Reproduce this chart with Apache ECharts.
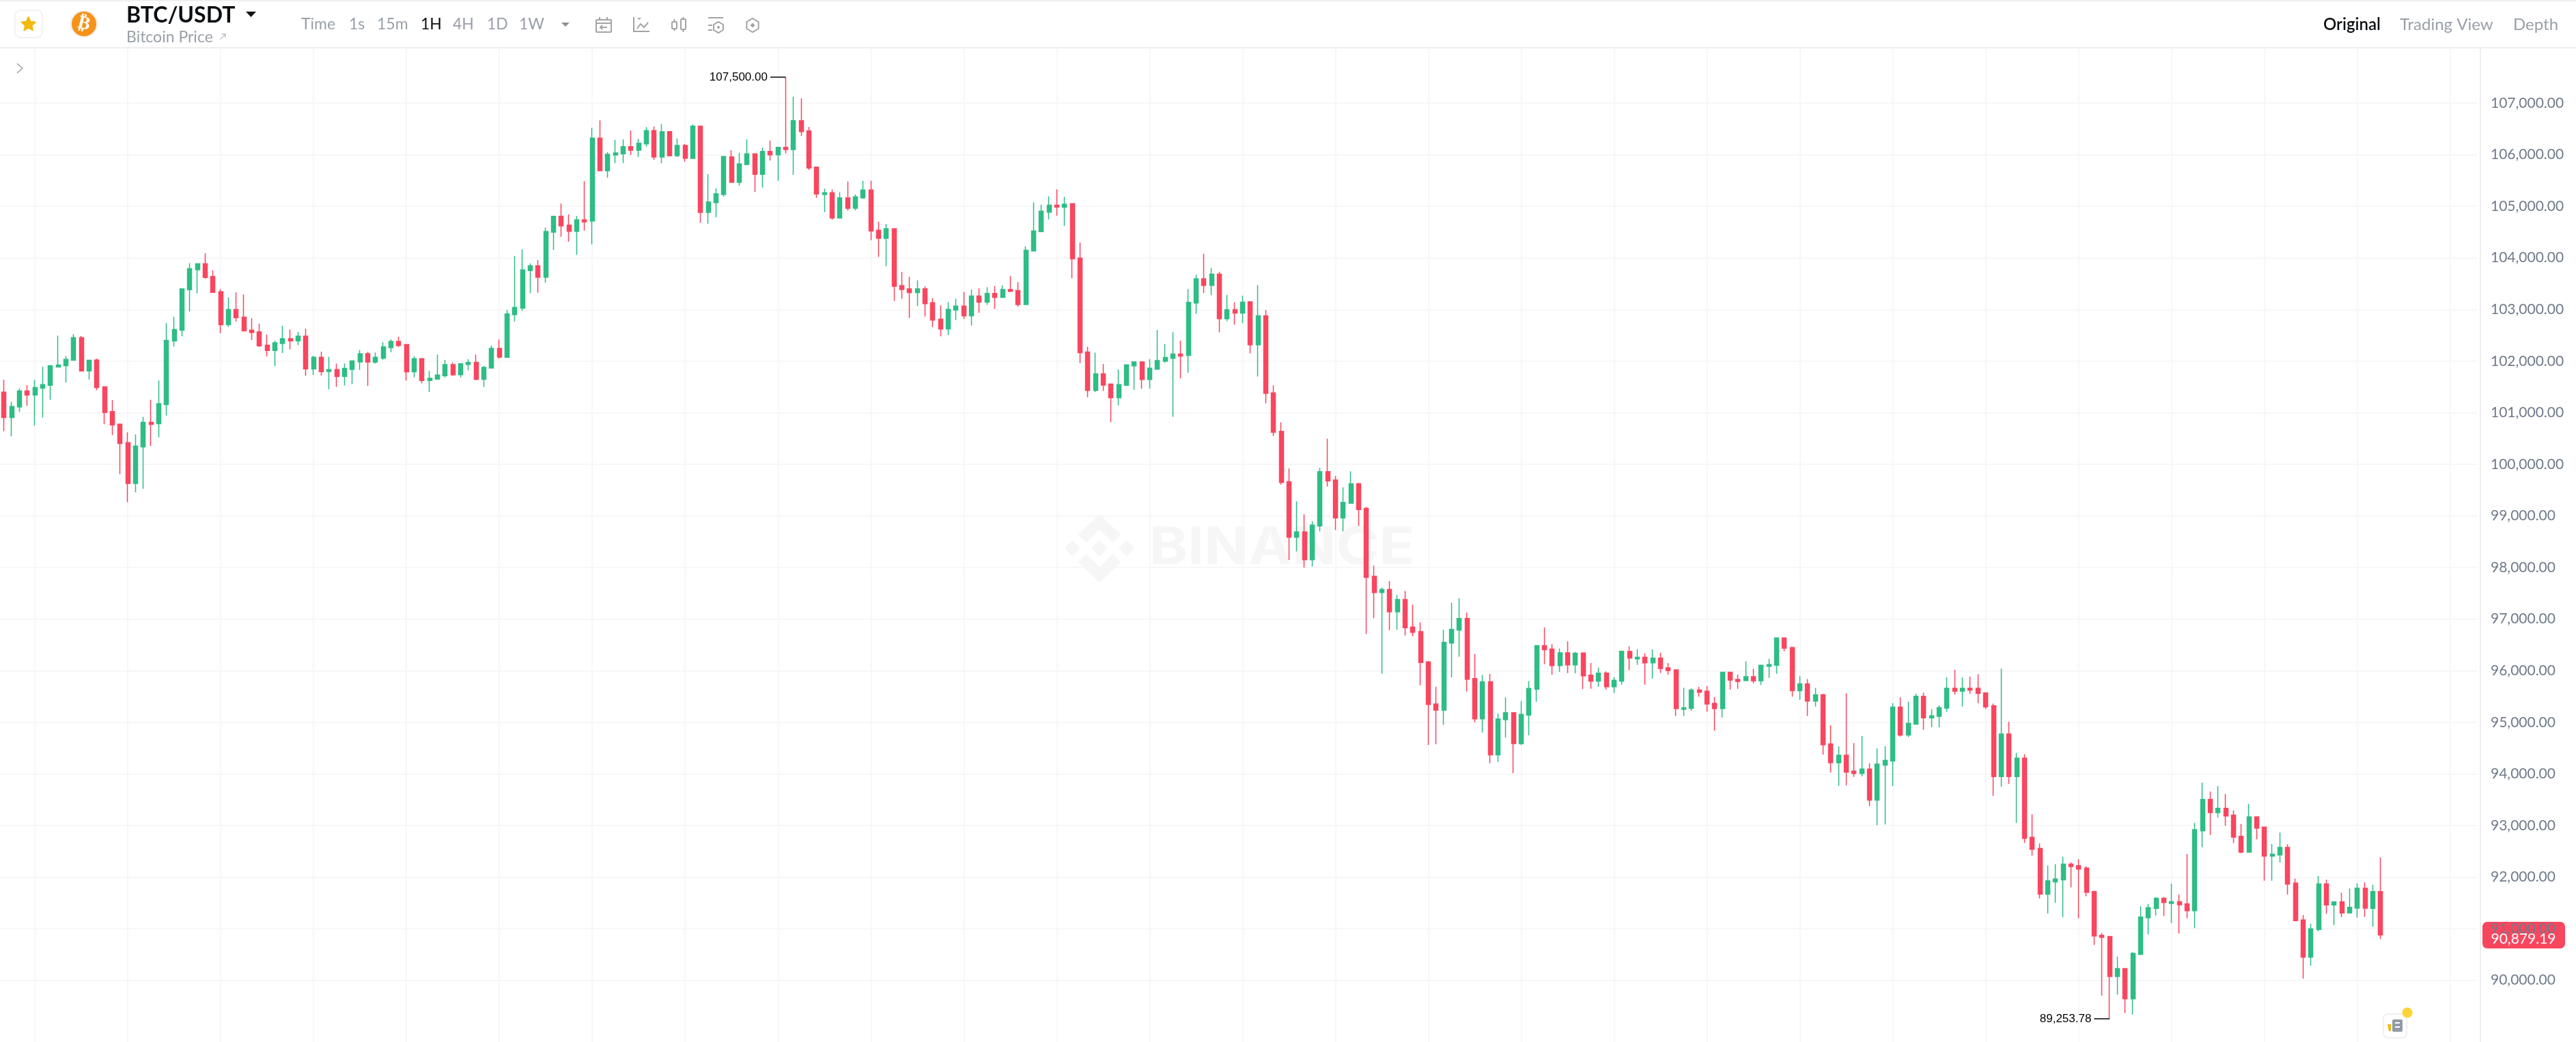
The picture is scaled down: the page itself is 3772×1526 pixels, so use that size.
<!DOCTYPE html>
<html>
<head>
<meta charset="utf-8">
<title>BTC/USDT</title>
<style>
	html, body { margin: 0; padding: 0; background: #fff; }
	#chartCandles { width: 3772px; height: 1526px; }
</style>
<script src="https://cdn.jsdelivr.net/npm/echarts@6/dist/echarts.min.js"></script>
</head>
<body>
<div id="chartCandles"></div>
<script>
/* ---------------------------------------------
--------------------------------------------- */
const opens = [
	101400,100906,101113,101422,101342,101475,101532,101885,101911,102017,
	102454,101810,102022,101501,101021,100778,100421,99631,100337,100813,
	100787,101157,102392,102599,103384,103772,103887,103640,103345,102705,
	103001,102851,102599,102568,102308,102207,102344,102436,102392,102485,
	101850,102074,101801,101836,101704,101841,101986,102145,101977,102057,
	102264,102383,102321,101792,102048,101623,101650,101716,101932,101738,
	101937,101976,101646,101866,102245,102073,102903,103026,103754,103847,
	103626,104499,104808,104636,104517,104738,104716,106321,105690,105995,
	106017,106158,106087,106211,106467,105955,106449,105981,106180,105929,
	106555,104883,105073,105232,105959,105465,105809,106017,105620,106065,
	105999,106145,106101,106661,106462,105761,105232,105264,104773,105165,
	104962,105165,105316,104537,104381,104565,103464,103402,103327,103402,
	103133,102812,102623,102991,103067,102878,103261,103142,103313,103237,
	103388,103369,103095,104135,104508,104886,105023,104981,105052,103998,
	102178,101432,101753,101555,101290,101531,101909,101985,101644,101843,
	101999,102055,102136,102112,103128,103596,103468,103686,102821,102996,
	102930,103149,102317,102877,101385,100637,99664,98586,98690,98151,
	98805,99857,99695,98962,99245,99622,99146,97829,97516,97574,
	97141,97379,96846,96758,96171,95355,95236,96537,96788,97013,
	95849,95068,95787,94371,95050,95187,94587,95139,95642,96488,
	96422,96100,96347,96114,96343,95915,95800,95955,95690,95800,
	96374,96228,96263,96153,96246,96056,96016,95253,95271,95628,
	95602,95368,95267,95972,95831,95809,95884,95805,96087,96105,
	96634,96450,95614,95746,95412,95533,94581,94217,94364,94055,
	94009,94095,93493,94171,94252,95295,94753,94966,95503,95088,
	95118,95275,95660,95604,95660,95660,95569,95321,93948,94774,
	93948,94308,92773,92556,91670,91908,91948,92252,92221,92176,
	91720,90874,90849,90075,90229,89643,90503,91213,91394,91592,
	91491,91526,91482,91350,92898,93507,93251,93335,93203,92792,
	92484,93167,92969,92409,92431,92576,91884,91169,90450,90984,
	91870,91460,91522,91306,91398,91787,91394,91720,
];
const closes = [
	100906,101122,101422,101342,101488,101545,101911,101925,102035,102454,
	101810,102017,101488,101007,100765,100403,99631,100355,100813,100774,
	101175,102401,102613,103402,103790,103887,103622,103331,102705,103001,
	102842,102586,102555,102295,102207,102357,102436,102392,102485,101850,
	102074,101797,101836,101704,101858,102004,102145,101982,102074,102277,
	102383,102304,101792,102048,101625,101668,101729,101932,101738,101950,
	101976,101646,101879,102245,102078,102916,103039,103767,103847,103626,
	104513,104808,104623,104517,104738,104698,106321,105690,106008,106034,
	106158,106087,106224,106467,105955,106445,105981,106180,105933,106555,
	104883,105086,105245,105964,105465,105823,106017,105620,106065,105999,
	106145,106101,106661,106449,105743,105240,105262,104773,105165,104962,
	105184,105316,104522,104381,104565,103450,103388,103327,103402,103114,
	102797,102623,103005,103067,102878,103261,103142,103313,103237,103388,
	103350,103095,104149,104522,104905,105023,104986,105042,103984,102164,
	101432,101753,101536,101290,101545,101928,101985,101644,101862,102013,
	102070,102136,102098,103138,103596,103468,103686,102821,102996,102930,
	103142,102317,102877,101375,100621,99648,98586,98690,98151,98821,
	99857,99679,98962,99261,99622,99125,97811,97516,97574,97141,
	97379,96833,96744,96158,95346,95236,96550,96802,97013,95836,
	95068,95787,94371,95064,95187,94587,95152,95655,96488,96409,
	96100,96347,96114,96338,95902,95800,95955,95690,95814,96378,
	96246,96263,96153,96246,96043,96003,95267,95284,95628,95584,
	95355,95267,95972,95818,95792,95884,95805,96105,96118,96634,
	96436,95614,95746,95412,95533,94566,94217,94364,94034,94009,
	94095,93493,94191,94262,95295,94753,94981,95503,95088,95128,
	95285,95660,95604,95660,95624,95559,95300,93948,94774,93948,
	94308,92753,92541,91670,91928,91963,92252,92206,92156,91705,
	90859,90834,90074,90229,89643,90521,91226,91407,91592,91509,
	91526,91465,91350,92920,93507,93251,93335,93185,92775,92484,
	93167,92951,92409,92444,92576,91866,91156,90450,90997,91870,
	91460,91522,91306,91416,91787,91398,91720,90879.19,
];
const lows = [
	100641,100544,101016,101135,100751,100906,101250,101876,101585,102017,
	101810,101642,101435,100778,100566,99808,99265,99459,99526,100355,
	100522,100946,102282,102480,102961,103314,103596,103331,102542,102665,
	102767,102586,102410,102273,102092,101903,102158,102229,102308,101713,
	101731,101722,101457,101501,101528,101554,101828,101519,101955,102026,
	102172,102277,101625,101686,101567,101403,101641,101685,101712,101685,
	101818,101632,101500,101866,102047,102073,102770,102973,103317,103326,
	103520,104155,104411,104314,104058,104530,104266,105690,105554,105840,
	105840,105995,105959,106158,105898,105836,105964,105955,105867,105929,
	104680,104663,104786,105188,105465,105404,105809,105276,105364,105889,
	105496,106026,105611,106361,105708,105165,104888,104740,104763,104915,
	104924,105146,104343,104021,103842,103166,103209,102835,103062,102864,
	102656,102481,102504,102797,102816,102689,102939,103090,103010,103232,
	103350,103053,103095,104135,104508,104745,104820,104622,103606,101961,
	101299,101399,101422,100817,101143,101521,101446,101465,101469,101843,
	101970,100921,101668,101777,102916,103317,103279,102556,102774,102708,
	102736,102149,101699,101181,100548,99606,98146,98314,98000,98021,
	98701,99570,98727,98701,99240,98805,96712,97018,95941,96784,
	96793,96683,96669,95717,94561,94574,94953,95871,96272,95597,
	94998,94803,94208,94234,94702,94014,94561,94751,95399,96131,
	95924,95977,95955,95950,95642,95650,95690,95633,95567,95730,
	96012,96114,95730,95849,95959,95924,95121,95125,95222,95496,
	95205,94839,95095,95633,95650,95809,95756,95721,95862,95941,
	96374,95498,95437,95123,95305,94374,94024,93771,93776,93943,
	93953,93376,93006,93022,93766,94723,94713,94966,94855,94905,
	94905,95204,95538,95305,95549,95371,95255,93574,93751,93807,
	93052,92662,92414,91588,91295,91502,91224,91801,91204,91629,
	90687,89705,89253.78,89722,89369,89338,90503,90891,91257,91248,
	91112,90909,91204,91010,92581,92819,93154,92995,92660,92461,
	92484,92731,91932,91932,92281,91663,91156,90031,90287,90953,
	91288,91072,91226,91306,91218,91231,91041,90799,
];
const highs = [
	101642,101215,101475,101536,101633,101889,101920,102493,102097,102524,
	102489,102017,102048,101510,101245,100791,100619,100580,100919,101250,
	101625,102736,102859,103402,103896,103887,104094,103759,103397,103234,
	103331,103292,102833,102727,102515,102396,102687,102613,102568,102630,
	102105,102185,102083,101951,101960,102004,102216,102180,102167,102366,
	102418,102476,102330,102097,102052,101809,102126,102020,101976,101963,
	102038,102126,101910,102303,102417,102995,104036,104164,103895,103961,
	104588,104808,105055,104843,104813,105487,106520,106665,106052,106290,
	106295,106467,106308,106533,106546,106595,106449,106317,106211,106586,
	106555,105624,105346,105977,106087,106039,106295,106017,106140,106273,
	106145,107500,107124,107093,106537,105761,105342,105326,105274,105482,
	105231,105491,105496,104702,104659,104565,103728,103634,103568,103450,
	103223,103081,103142,103209,103341,103388,103412,103435,103454,103464,
	103648,103530,104225,105075,105033,105194,105331,105184,105052,104296,
	102278,102164,101947,101569,101838,101928,101994,101994,102037,102604,
	102334,102561,102400,103398,103672,104078,103804,103733,103284,103138,
	103270,103154,103473,102992,101532,100815,99920,99287,99031,98900,
	99931,100496,99774,99554,99863,99643,99172,98037,97613,97737,
	97468,97547,97282,96938,96175,95690,96793,97318,97406,97124,
	96325,95919,95937,95170,95483,95187,95412,95796,96488,96841,
	96515,96431,96568,96369,96347,96149,96061,95986,95871,96383,
	96471,96422,96334,96413,96347,96149,96016,95668,95655,95690,
	95703,95492,95972,95977,95924,96184,96039,96109,96233,96638,
	96638,96455,95893,95837,95665,95554,94941,94536,95564,94597,
	94733,94207,94495,94536,95371,95483,95402,95554,95574,95255,
	95326,95873,96019,95868,95888,95933,95574,95366,96040,95012,
	94409,94384,93219,92652,92227,92252,92394,92287,92348,92211,
	91740,90920,90849,90463,90229,90547,91434,91482,91610,91610,
	91875,91659,92448,93048,93833,93657,93763,93613,93295,93030,
	93419,93167,92978,92642,92863,92638,91972,91266,91098,92025,
	91950,91522,91698,91778,91879,91897,91853,92382,
];
const priceTicks = [
	90000,91000,92000,93000,94000,95000,96000,97000,98000,
	99000,100000,101000,102000,103000,104000,105000,106000,107000,
];
const intervalLabels = ['Time', '1s', '15m', '1H', '4H', '1D', '1W'];
const viewLabels = ['Original', 'Trading View', 'Depth'];

/* ---------------------------------------------
	Helpers
--------------------------------------------- */
const UP = '#2EBD85';
const DOWN = '#F9465F';
const GREY = '#999FA8';
const ICON = '#A3A3A3';
const LABEL_FONT = 'Lato, sans-serif';

function fmt(value) {
	return value.toLocaleString('en-US', { minimumFractionDigits: 2, maximumFractionDigits: 2 });
}

function txt(text, x, y, size, color, extra) {
	return {
		type: 'text',
		x,
		y,
		silent: true,
		style: Object.assign({ text, fontSize: size, fontFamily: LABEL_FONT, fill: color, verticalAlign: 'middle' }, extra),
	};
}

function stroke(points, color, width) {
	return {
		type: 'polyline',
		silent: true,
		shape: { points },
		style: { stroke: color || ICON, lineWidth: width || 2, fill: null },
	};
}

function fillPoly(points, color) {
	return { type: 'polygon', silent: true, shape: { points }, style: { fill: color } };
}

function box(x, y, width, height, r, fill, line) {
	return {
		type: 'rect',
		silent: true,
		shape: { x, y, width, height, r },
		style: { fill: fill || null, stroke: line || null, lineWidth: line ? 2 : 0 },
	};
}

function hexagon(cx, cy, r) {
	const points = [];
	for (let i = 0; i <= 6; i += 1) {
		const a = Math.PI / 6 + (i * Math.PI) / 3;
		points.push([cx + r * Math.cos(a), cy + r * Math.sin(a)]);
	}
	return stroke(points);
}

function starPoints(cx, cy, outer, inner) {
	const points = [];
	for (let i = 0; i < 10; i += 1) {
		const a = -Math.PI / 2 + (i * Math.PI) / 5;
		const r = i % 2 ? inner : outer;
		points.push([cx + r * Math.cos(a), cy + r * Math.sin(a)]);
	}
	return points;
}

/* ---------------------------------------------
	Header bar and overlays
--------------------------------------------- */
function headerElements() {
	const intervalX = [441, 511, 552, 616, 663, 713, 760];
	const viewX = [3402, 3514, 3680];
	const els = [
		box(0, 0, 3772, 71, 0, '#fff'),
		box(0, 0, 3772, 2, 0, '#F0F0F0'),
		box(0, 69, 3772, 2, 0, '#EEEEEE'),
		// star and coin
		box(22, 15, 40, 40, 8, '#fff', '#F2F2F2'),
		Object.assign(fillPoly(starPoints(41.7, 35.7, 10.5, 5), '#F0B90B'), { style: { fill: '#F0B90B', stroke: '#F0B90B', lineWidth: 2, lineJoin: 'round' } }),
		{ type: 'circle', silent: true, shape: { cx: 123, cy: 35, r: 20 }, style: { fill: '#EFEFEF' } },
		{ type: 'circle', silent: true, shape: { cx: 123, cy: 35, r: 18 }, style: { fill: '#F7931A' } },
		{
			type: 'text',
			silent: true,
			x: 123,
			y: 35,
			rotation: -0.24,
			style: { text: '\u20BF', fontSize: 27, fontWeight: 'bold', fontFamily: 'DejaVu Sans', fill: '#fff', align: 'center', verticalAlign: 'middle' },
		},
		txt('BTC/USDT', 185, 23, 32, '#0B0E11', { fontWeight: 'bold' }),
		fillPoly([[360, 17], [375, 17], [367.5, 25]], '#111'),
		txt('Bitcoin Price', 185, 55, 23, GREY),
		stroke([[322, 58], [330, 50]], GREY, 1),
		stroke([[325, 50], [330, 50], [330, 55]], GREY, 1),
		fillPoly([[822, 33], [834, 33], [828, 39]], '#8F8F8F'),
		// chevron that opens the tool rail
		stroke([[25, 93], [33, 100], [25, 107]], '#9AA0A8', 1.5),
	];
	intervalLabels.forEach((label, i) => {
		els.push(txt(label, intervalX[i], 36, 23, label === '1H' ? '#0B0E11' : GREY));
	});
	viewLabels.forEach((label, i) => {
		els.push(txt(label, viewX[i], 36, 24, i === 0 ? '#0B0E11' : GREY, { fontWeight: i === 0 ? '600' : 'normal' }));
	});

	// calendar
	els.push(box(873, 29, 22, 18, 1, null, ICON));
	els.push(stroke([[873, 34], [895, 34]]));
	els.push(stroke([[878, 25], [878, 29]]));
	els.push(stroke([[889, 25], [889, 29]]));
	els.push(stroke([[879, 40], [889, 40]]));
	els.push(stroke([[882, 37], [879, 40], [882, 43]]));
	// line chart
	els.push(stroke([[928, 25], [928, 46], [951, 46]]));
	els.push(fillPoly([[933, 26], [939, 26], [936, 29]], ICON));
	els.push(stroke([[933, 42], [938, 35], [943, 40], [949, 33]]));
	// candles
	els.push(box(984, 32, 7, 10, 1, null, ICON));
	els.push(stroke([[987.5, 28], [987.5, 32]]));
	els.push(stroke([[987.5, 42], [987.5, 45]]));
	els.push(box(997, 28, 7, 15, 1, null, ICON));
	els.push(stroke([[1000.5, 25], [1000.5, 28]]));
	els.push(stroke([[1000.5, 43], [1000.5, 47]]));
	// settings
	els.push(stroke([[1037, 26], [1059, 26]]));
	els.push(stroke([[1037, 37], [1043, 37]]));
	els.push(stroke([[1037, 44], [1043, 44]]));
	els.push(hexagon(1052, 40, 8));
	els.push({ type: 'circle', silent: true, shape: { cx: 1052, cy: 40, r: 2 }, style: { fill: ICON } });
	els.push(hexagon(1102, 37, 10));
	els.push(fillPoly([[1102, 33.5], [1105.5, 37], [1102, 40.5], [1098.5, 37]], ICON));
	return els;
}

function watermarkElements() {
	const color = '#F6F6F6';
	const cx = 1610;
	const cy = 803;
	const diamond = (x, y) => fillPoly([[x, y - 11.8], [x + 11.8, y], [x, y + 11.8], [x - 11.8, y]], color);
	const chevron = (s) => fillPoly([
		[cx, cy - s * 50],
		[cx + 31.4, cy - s * 20],
		[cx + 19.6, cy - s * 8.3],
		[cx, cy - s * 27.7],
		[cx - 19.6, cy - s * 8.3],
		[cx - 31.4, cy - s * 20],
	], color);
	return [
		chevron(1),
		chevron(-1),
		diamond(cx, cy),
		diamond(cx - 39.6, cy),
		diamond(cx + 39.6, cy),
		{
			type: 'text',
			silent: true,
			x: 1683,
			y: 803,
			scaleX: 1.12,
			style: { text: 'BINANCE', fontSize: 76, fontWeight: 700, fontFamily: 'Inter', fill: color, verticalAlign: 'middle' },
		},
	];
}

function overlayElements() {
	const lastClose = closes[closes.length - 1];
	return [
		// last price tag
		box(3635, 1350, 121, 39, 7, DOWN),
		txt(fmt(lastClose), 3695, 1375, 21, '#fff', { align: 'center' }),
		// news button
		box(3490, 1485, 34, 35, 7, '#fff', '#F0F0F0'),
		box(3503, 1493, 15, 18, 2, '#929AA5'),
		box(3507, 1497, 7, 2, 0, '#fff'),
		box(3507, 1503, 7, 2, 0, '#fff'),
		fillPoly([[3496, 1500], [3501, 1500], [3501, 1510], [3498, 1510]], '#F0B90B'),
		{ type: 'circle', silent: true, shape: { cx: 3525, cy: 1483, r: 7.5 }, style: { fill: '#FCD535' } },
	];
}

/* ---------------------------------------------
	Candles
--------------------------------------------- */
function initChartCandles() {
	const chart = echarts.init(document.getElementById('chartCandles'));
	const candles = opens.map((open, i) => [open, closes[i], lows[i], highs[i]]);
	const blankSlots = 12;
	const categories = opens.concat(new Array(blankSlots).fill(0)).map((v, i) => String(i));
	const highIdx = highs.indexOf(Math.max.apply(null, highs));
	const lowIdx = lows.indexOf(Math.min.apply(null, lows));
	const extremeLabel = {
		position: 'end',
		distance: 4,
		color: '#000',
		fontSize: 17,
		fontFamily: 'Liberation Sans',
		formatter(p) {
			return fmt(p.data.coord ? p.data.coord[1] : p.value);
		},
	};

	chart.setOption({
		animation: false,
		backgroundColor: '#fff',
		grid: { left: 0, top: 71, width: 3627.5, height: 1455 },
		xAxis: {
			type: 'category',
			data: categories,
			axisLine: { show: false },
			axisTick: { show: false },
			axisLabel: { show: false },
			splitLine: {
				show: true,
				alignWithLabel: true,
				interval(index) {
					return (index - 4) % 12 === 0;
				},
				lineStyle: { color: '#F7F7F7', width: 2 },
			},
		},
		yAxis: {
			type: 'value',
			position: 'right',
			offset: 4.5,
			min: 88805,
			max: 108059,
			axisLine: { show: true, lineStyle: { color: '#EEEEEE', width: 2 } },
			axisTick: { show: false, customValues: priceTicks },
			axisLabel: {
				customValues: priceTicks,
				margin: 15,
				color: '#707A8A',
				fontSize: 21,
				fontFamily: LABEL_FONT,
				formatter: (v) => fmt(v),
			},
			splitLine: { show: true, lineStyle: { color: '#F7F7F7', width: 2 } },
		},
		graphic: { elements: watermarkElements().concat(headerElements(), overlayElements()) },
		series: [
			{
				type: 'candlestick',
				data: candles,
				barWidth: 6.5,
				z: 3,
				itemStyle: {
					color: UP,
					color0: DOWN,
					borderColor: UP,
					borderColor0: DOWN,
					borderWidth: 1.5,
				},
				markLine: {
					silent: true,
					symbol: 'none',
					animation: false,
					lineStyle: { color: '#000', width: 1.5, type: 'solid' },
					label: extremeLabel,
					emphasis: { disabled: true },
					data: [
						[{ coord: [highIdx, highs[highIdx]] }, { coord: [highIdx - 2, highs[highIdx]] }],
						[{ coord: [lowIdx, lows[lowIdx]] }, { coord: [lowIdx - 2, lows[lowIdx]] }],
					],
				},
			},
		],
	});
}

initChartCandles();
</script>
</body>
</html>
